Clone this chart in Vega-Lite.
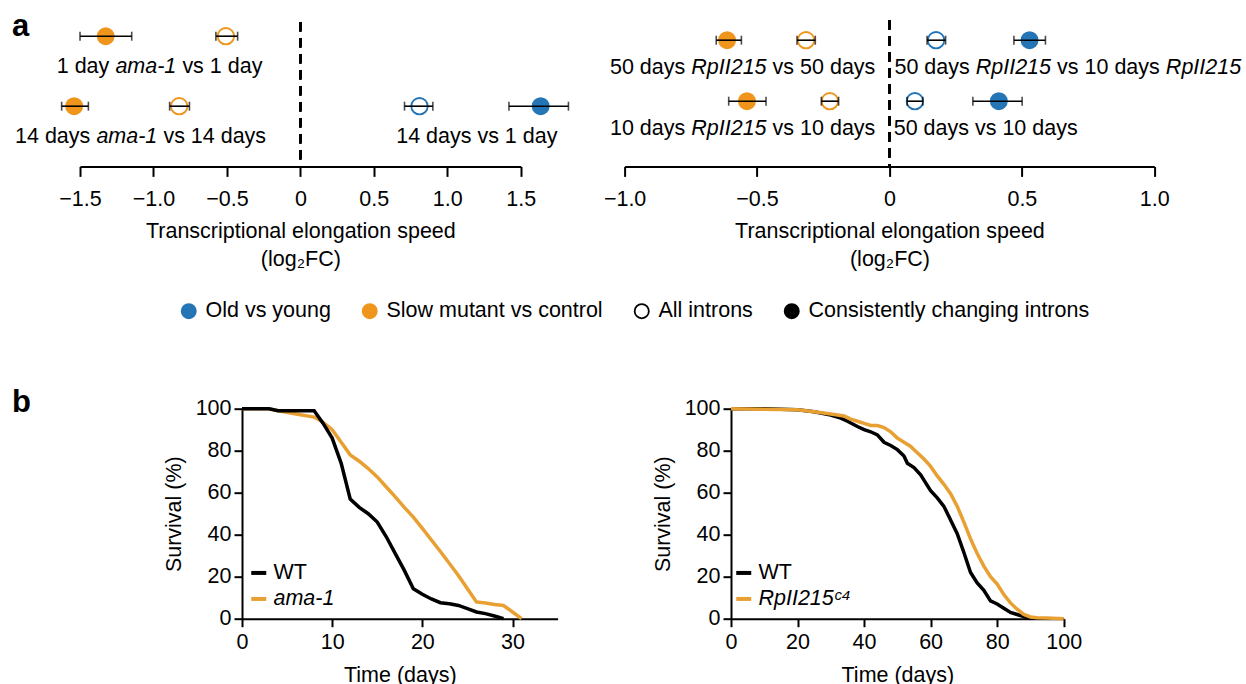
{
  "$schema": "https://vega.github.io/schema/vega-lite/v6.json",
  "padding": {"left": 12, "top": 4.7, "right": 5, "bottom": 0},
  "background": "white",
  "config": {
    "font": "Liberation Sans",
    "view": {"stroke": null},
    "axis": {"domainColor": "black", "domainWidth": 2, "tickColor": "black", "tickWidth": 2, "labelColor": "black", "labelFontSize": 21.5, "titleFontSize": 21.5, "titleFontWeight": "normal", "titleColor": "black", "grid": false, "labelFont": "Liberation Sans", "titleFont": "Liberation Sans", "labelFlush": false, "labelOverlap": false},
    "legend": {"labelFontSize": 21.5, "labelColor": "black", "labelFont": "Liberation Sans", "labelLimit": 0},
    "text": {"font": "Liberation Sans", "fontSize": 21.5, "color": "black"},
    "title": {"font": "Liberation Sans", "color": "black"}
  },
  "bounds": "flush",
  "spacing": 404,
  "resolve": {"scale": {"color": "independent", "fill": "independent", "stroke": "independent", "x": "independent", "y": "independent"}, "legend": {"color": "independent", "fill": "independent", "stroke": "independent"}},
  "vconcat": [
    {
      "title": {"text": "a", "anchor": "start", "frame": "group", "fontSize": 31, "fontWeight": "bold", "offset": 0, "dx": -68, "dy": 61.9, "baseline": "alphabetic"},
      "bounds": "flush",
      "spacing": 103.6,
      "resolve": {"scale": {"color": "independent", "fill": "independent", "stroke": "independent", "x": "independent", "y": "independent"}, "legend": {"color": "independent", "fill": "independent", "stroke": "independent"}},
      "hconcat": [
        {
          "width": 440.7,
          "height": 161.7,
          "data": {"values": [
            {"kind": "pt", "row": 2, "grp": "Slow mutant vs control", "typ": "consistent", "est": -1.325, "lo": -1.5, "hi": -1.148},
            {"kind": "pt", "row": 2, "grp": "Slow mutant vs control", "typ": "all", "est": -0.507, "lo": -0.575, "hi": -0.427},
            {"kind": "pt", "row": 1, "grp": "Slow mutant vs control", "typ": "consistent", "est": -1.54, "lo": -1.625, "hi": -1.443},
            {"kind": "pt", "row": 1, "grp": "Slow mutant vs control", "typ": "all", "est": -0.825, "lo": -0.89, "hi": -0.755},
            {"kind": "pt", "row": 1, "grp": "Old vs young", "typ": "all", "est": 0.811, "lo": 0.709, "hi": 0.902},
            {"kind": "pt", "row": 1, "grp": "Old vs young", "typ": "consistent", "est": 1.636, "lo": 1.42, "hi": 1.825},
            {"kind": "lab", "row": 2, "x": -1.6585, "text": "1 day", "ital": false},
            {"kind": "lab", "row": 2, "x": -1.2592, "text": "ama-1", "ital": true},
            {"kind": "lab", "row": 2, "x": -0.8031, "text": "vs 1 day", "ital": false},
            {"kind": "lab", "row": 1, "x": -1.9424, "text": "14 days", "ital": false},
            {"kind": "lab", "row": 1, "x": -1.3884, "text": "ama-1", "ital": true},
            {"kind": "lab", "row": 1, "x": -0.9323, "text": "vs 14 days", "ital": false},
            {"kind": "lab", "row": 1, "x": 0.6524, "text": "14 days vs 1 day", "ital": false}
          ]},
          "layer": [
            {
              "mark": {"type": "rule", "strokeDash": [9, 7], "strokeWidth": 2, "color": "black"},
              "encoding": {
                "x": {"datum": 0, "type": "quantitative", "scale": {"domain": [-1.5, 1.5], "nice": false, "zero": false}},
                "y": {"datum": 2.2, "type": "quantitative", "scale": {"domain": [0.14, 2.45], "nice": false, "zero": false}, "axis": null},
                "y2": {"datum": 0.14}
              }
            },
            {
              "transform": [{"filter": "datum.kind === 'pt' && datum.typ === 'consistent'"}],
              "mark": {"type": "point", "filled": true, "size": 320, "opacity": 1},
              "encoding": {
                "x": {"field": "est", "type": "quantitative", "scale": {"domain": [-1.5, 1.5], "nice": false, "zero": false},
                  "axis": {"values": [-1.5, -1, -0.5, 0, 0.5, 1, 1.5], "labelExpr": "datum.value === 0 ? '0' : format(datum.value, '.1f')", "title": ["Transcriptional elongation speed", "(log₂FC)"], "tickSize": 10, "labelPadding": 12, "titlePadding": 11, "titleLineHeight": 28}},
                "y": {"field": "row", "type": "quantitative", "scale": {"domain": [0.14, 2.45], "nice": false, "zero": false}, "axis": null},
                "color": {"field": "grp", "type": "nominal", "scale": {"domain": ["Old vs young", "Slow mutant vs control"], "range": ["#2475B5", "#EF951C"]}, "legend": null}
              }
            },
            {
              "transform": [{"filter": "datum.kind === 'pt' && datum.typ === 'all'"}],
              "mark": {"type": "point", "filled": false, "size": 270, "strokeWidth": 1.8, "opacity": 1},
              "encoding": {
                "x": {"field": "est", "type": "quantitative", "scale": {"domain": [-1.5, 1.5], "nice": false, "zero": false}},
                "y": {"field": "row", "type": "quantitative", "scale": {"domain": [0.14, 2.45], "nice": false, "zero": false}, "axis": null},
                "color": {"field": "grp", "type": "nominal", "scale": {"domain": ["Old vs young", "Slow mutant vs control"], "range": ["#2475B5", "#EF951C"]}, "legend": null}
              }
            },
            {
              "transform": [{"filter": "datum.kind === 'pt'"}],
              "mark": {"type": "rule", "strokeWidth": 1.6, "color": "black"},
              "encoding": {
                "x": {"field": "lo", "type": "quantitative", "scale": {"domain": [-1.5, 1.5], "nice": false, "zero": false}},
                "x2": {"field": "hi"},
                "y": {"field": "row", "type": "quantitative", "scale": {"domain": [0.14, 2.45], "nice": false, "zero": false}, "axis": null}
              }
            },
            {
              "transform": [{"filter": "datum.kind === 'pt'"}, {"fold": ["lo", "hi"], "as": ["end", "xv"]}],
              "mark": {"type": "tick", "orient": "vertical", "size": 9, "thickness": 1.6, "color": "black"},
              "encoding": {
                "x": {"field": "xv", "type": "quantitative", "scale": {"domain": [-1.5, 1.5], "nice": false, "zero": false}},
                "y": {"field": "row", "type": "quantitative", "scale": {"domain": [0.14, 2.45], "nice": false, "zero": false}, "axis": null}
              }
            },
            {
              "transform": [{"filter": "datum.kind === 'lab' && !datum.ital"}],
              "mark": {"type": "text", "align": "left", "baseline": "middle", "dy": 30.7, "fontSize": 21.5},
              "encoding": {
                "x": {"field": "x", "type": "quantitative", "scale": {"domain": [-1.5, 1.5], "nice": false, "zero": false}},
                "y": {"field": "row", "type": "quantitative", "scale": {"domain": [0.14, 2.45], "nice": false, "zero": false}, "axis": null},
                "text": {"field": "text"}
              }
            },
            {
              "transform": [{"filter": "datum.kind === 'lab' && datum.ital"}],
              "mark": {"type": "text", "align": "left", "baseline": "middle", "dy": 30.7, "fontSize": 21.5, "fontStyle": "italic"},
              "encoding": {
                "x": {"field": "x", "type": "quantitative", "scale": {"domain": [-1.5, 1.5], "nice": false, "zero": false}},
                "y": {"field": "row", "type": "quantitative", "scale": {"domain": [0.14, 2.45], "nice": false, "zero": false}, "axis": null},
                "text": {"field": "text"}
              }
            },
            {
              "data": {"values": [{"key": "Old vs young"}, {"key": "Slow mutant vs control"}, {"key": "All introns"}, {"key": "Consistently changing introns"}]},
              "mark": {"type": "point", "opacity": 0, "size": 200, "strokeWidth": 1.8},
              "encoding": {
                "x": {"datum": 0, "type": "quantitative", "scale": {"domain": [-1.5, 1.5], "nice": false, "zero": false}},
                "y": {"datum": 1, "type": "quantitative", "scale": {"domain": [0.14, 2.45], "nice": false, "zero": false}, "axis": null},
                "fill": {"field": "key", "type": "nominal", "scale": {"domain": ["Old vs young", "Slow mutant vs control", "All introns", "Consistently changing introns"], "range": ["#2475B5", "#EF951C", "white", "black"]},
                  "legend": {"title": null, "orient": "none", "direction": "horizontal", "legendX": 98, "legendY": 295.5, "symbolType": "circle", "symbolSize": 200, "symbolStrokeWidth": 1.8, "symbolOpacity": 1, "labelOffset": 6, "columnPadding": 28, "padding": 0}},
                "stroke": {"field": "key", "type": "nominal", "scale": {"domain": ["Old vs young", "Slow mutant vs control", "All introns", "Consistently changing introns"], "range": ["#2475B5", "#EF951C", "black", "black"]},
                  "legend": {"title": null, "orient": "none", "direction": "horizontal", "legendX": 98, "legendY": 295.5, "symbolType": "circle", "symbolSize": 200, "symbolStrokeWidth": 1.8, "symbolOpacity": 1, "labelOffset": 6, "columnPadding": 28, "padding": 0}}
              }
            }
          ]
        },
        {
          "width": 529.7,
          "height": 161.7,
          "data": {"values": [
            {"kind": "pt", "row": 2, "grp": "Slow mutant vs control", "typ": "consistent", "est": -0.613, "lo": -0.654, "hi": -0.559},
            {"kind": "pt", "row": 2, "grp": "Slow mutant vs control", "typ": "all", "est": -0.315, "lo": -0.349, "hi": -0.28},
            {"kind": "pt", "row": 2, "grp": "Old vs young", "typ": "all", "est": 0.176, "lo": 0.142, "hi": 0.212},
            {"kind": "pt", "row": 2, "grp": "Old vs young", "typ": "consistent", "est": 0.529, "lo": 0.47, "hi": 0.589},
            {"kind": "pt", "row": 1, "grp": "Slow mutant vs control", "typ": "consistent", "est": -0.538, "lo": -0.607, "hi": -0.466},
            {"kind": "pt", "row": 1, "grp": "Slow mutant vs control", "typ": "all", "est": -0.225, "lo": -0.257, "hi": -0.192},
            {"kind": "pt", "row": 1, "grp": "Old vs young", "typ": "all", "est": 0.096, "lo": 0.067, "hi": 0.126},
            {"kind": "pt", "row": 1, "grp": "Old vs young", "typ": "consistent", "est": 0.413, "lo": 0.315, "hi": 0.501},
            {"kind": "lab", "row": 2, "x": -1.0552, "text": "50 days", "ital": false},
            {"kind": "lab", "row": 2, "x": -0.7481, "text": "RpII215", "ital": true},
            {"kind": "lab", "row": 2, "x": -0.4411, "text": "vs 50 days", "ital": false},
            {"kind": "lab", "row": 2, "x": 0.0189, "text": "50 days", "ital": false},
            {"kind": "lab", "row": 2, "x": 0.3259, "text": "RpII215", "ital": true},
            {"kind": "lab", "row": 2, "x": 0.6329, "text": "vs 10 days", "ital": false},
            {"kind": "lab", "row": 2, "x": 1.0437, "text": "RpII215", "ital": true},
            {"kind": "lab", "row": 1, "x": -1.0552, "text": "10 days", "ital": false},
            {"kind": "lab", "row": 1, "x": -0.7481, "text": "RpII215", "ital": true},
            {"kind": "lab", "row": 1, "x": -0.4411, "text": "vs 10 days", "ital": false},
            {"kind": "lab", "row": 1, "x": 0.0162, "text": "50 days vs 10 days", "ital": false}
          ]},
          "layer": [
            {
              "mark": {"type": "rule", "strokeDash": [9, 7], "strokeWidth": 2, "color": "black"},
              "encoding": {
                "x": {"datum": 0, "type": "quantitative", "scale": {"domain": [-1, 1], "nice": false, "zero": false}},
                "y": {"datum": 2.328, "type": "quantitative", "scale": {"domain": [-0.069, 2.582], "nice": false, "zero": false}, "axis": null},
                "y2": {"datum": -0.069}
              }
            },
            {
              "transform": [{"filter": "datum.kind === 'pt' && datum.typ === 'consistent'"}],
              "mark": {"type": "point", "filled": true, "size": 320, "opacity": 1},
              "encoding": {
                "x": {"field": "est", "type": "quantitative", "scale": {"domain": [-1, 1], "nice": false, "zero": false},
                  "axis": {"values": [-1, -0.5, 0, 0.5, 1], "labelExpr": "datum.value === 0 ? '0' : format(datum.value, '.1f')", "title": ["Transcriptional elongation speed", "(log₂FC)"], "tickSize": 10, "labelPadding": 12, "titlePadding": 11, "titleLineHeight": 28}},
                "y": {"field": "row", "type": "quantitative", "scale": {"domain": [-0.069, 2.582], "nice": false, "zero": false}, "axis": null},
                "color": {"field": "grp", "type": "nominal", "scale": {"domain": ["Old vs young", "Slow mutant vs control"], "range": ["#2475B5", "#EF951C"]}, "legend": null}
              }
            },
            {
              "transform": [{"filter": "datum.kind === 'pt' && datum.typ === 'all'"}],
              "mark": {"type": "point", "filled": false, "size": 270, "strokeWidth": 1.8, "opacity": 1},
              "encoding": {
                "x": {"field": "est", "type": "quantitative", "scale": {"domain": [-1, 1], "nice": false, "zero": false}},
                "y": {"field": "row", "type": "quantitative", "scale": {"domain": [-0.069, 2.582], "nice": false, "zero": false}, "axis": null},
                "color": {"field": "grp", "type": "nominal", "scale": {"domain": ["Old vs young", "Slow mutant vs control"], "range": ["#2475B5", "#EF951C"]}, "legend": null}
              }
            },
            {
              "transform": [{"filter": "datum.kind === 'pt'"}],
              "mark": {"type": "rule", "strokeWidth": 1.6, "color": "black"},
              "encoding": {
                "x": {"field": "lo", "type": "quantitative", "scale": {"domain": [-1, 1], "nice": false, "zero": false}},
                "x2": {"field": "hi"},
                "y": {"field": "row", "type": "quantitative", "scale": {"domain": [-0.069, 2.582], "nice": false, "zero": false}, "axis": null}
              }
            },
            {
              "transform": [{"filter": "datum.kind === 'pt'"}, {"fold": ["lo", "hi"], "as": ["end", "xv"]}],
              "mark": {"type": "tick", "orient": "vertical", "size": 9, "thickness": 1.6, "color": "black"},
              "encoding": {
                "x": {"field": "xv", "type": "quantitative", "scale": {"domain": [-1, 1], "nice": false, "zero": false}},
                "y": {"field": "row", "type": "quantitative", "scale": {"domain": [-0.069, 2.582], "nice": false, "zero": false}, "axis": null}
              }
            },
            {
              "transform": [{"filter": "datum.kind === 'lab' && !datum.ital"}],
              "mark": {"type": "text", "align": "left", "baseline": "middle", "dy": 28.3, "fontSize": 21.5},
              "encoding": {
                "x": {"field": "x", "type": "quantitative", "scale": {"domain": [-1, 1], "nice": false, "zero": false}},
                "y": {"field": "row", "type": "quantitative", "scale": {"domain": [-0.069, 2.582], "nice": false, "zero": false}, "axis": null},
                "text": {"field": "text"}
              }
            },
            {
              "transform": [{"filter": "datum.kind === 'lab' && datum.ital"}],
              "mark": {"type": "text", "align": "left", "baseline": "middle", "dy": 28.3, "fontSize": 21.5, "fontStyle": "italic"},
              "encoding": {
                "x": {"field": "x", "type": "quantitative", "scale": {"domain": [-1, 1], "nice": false, "zero": false}},
                "y": {"field": "row", "type": "quantitative", "scale": {"domain": [-0.069, 2.582], "nice": false, "zero": false}, "axis": null},
                "text": {"field": "text"}
              }
            }
          ]
        }
      ]
    },
    {
      "title": {"text": "b", "anchor": "start", "frame": "group", "fontSize": 31, "fontWeight": "bold", "offset": 0, "dx": -68, "dy": 45, "baseline": "alphabetic"},
      "bounds": "flush",
      "spacing": 0,
      "resolve": {"scale": {"color": "independent", "x": "independent", "y": "independent"}, "legend": {"color": "independent"}},
      "hconcat": [
        {"width": 161.7, "height": 210, "data": {"values": []}, "mark": "point"},
        {
          "width": 315.6,
          "height": 210,
          "data": {"values": [
            {"strain": "ama-1", "day": 0, "survival": 100}, {"strain": "ama-1", "day": 3, "survival": 100}, {"strain": "ama-1", "day": 4, "survival": 99}, {"strain": "ama-1", "day": 6, "survival": 97.5},
            {"strain": "ama-1", "day": 8, "survival": 96}, {"strain": "ama-1", "day": 9, "survival": 93.5}, {"strain": "ama-1", "day": 10, "survival": 90}, {"strain": "ama-1", "day": 11, "survival": 84},
            {"strain": "ama-1", "day": 12, "survival": 78}, {"strain": "ama-1", "day": 13, "survival": 75}, {"strain": "ama-1", "day": 14, "survival": 71.5}, {"strain": "ama-1", "day": 15, "survival": 67.5},
            {"strain": "ama-1", "day": 16, "survival": 62.7}, {"strain": "ama-1", "day": 17, "survival": 58}, {"strain": "ama-1", "day": 18, "survival": 53}, {"strain": "ama-1", "day": 19, "survival": 48.4},
            {"strain": "ama-1", "day": 20, "survival": 43}, {"strain": "ama-1", "day": 22, "survival": 32}, {"strain": "ama-1", "day": 24, "survival": 20.6}, {"strain": "ama-1", "day": 25, "survival": 14.3},
            {"strain": "ama-1", "day": 26, "survival": 8}, {"strain": "ama-1", "day": 27, "survival": 7.5}, {"strain": "ama-1", "day": 28, "survival": 6.8}, {"strain": "ama-1", "day": 29, "survival": 6.3},
            {"strain": "ama-1", "day": 30, "survival": 3.2}, {"strain": "ama-1", "day": 31, "survival": 0},
            {"strain": "WT", "day": 0, "survival": 100}, {"strain": "WT", "day": 3, "survival": 100}, {"strain": "WT", "day": 4, "survival": 99}, {"strain": "WT", "day": 8, "survival": 99},
            {"strain": "WT", "day": 9, "survival": 93}, {"strain": "WT", "day": 10, "survival": 86}, {"strain": "WT", "day": 11, "survival": 74}, {"strain": "WT", "day": 12, "survival": 57},
            {"strain": "WT", "day": 13, "survival": 53}, {"strain": "WT", "day": 14, "survival": 50}, {"strain": "WT", "day": 15, "survival": 46}, {"strain": "WT", "day": 16, "survival": 39},
            {"strain": "WT", "day": 17, "survival": 31}, {"strain": "WT", "day": 18, "survival": 23}, {"strain": "WT", "day": 19, "survival": 14.3}, {"strain": "WT", "day": 20, "survival": 11.6},
            {"strain": "WT", "day": 21, "survival": 9.4}, {"strain": "WT", "day": 22, "survival": 7.6}, {"strain": "WT", "day": 23, "survival": 7.1}, {"strain": "WT", "day": 24, "survival": 6.3},
            {"strain": "WT", "day": 25, "survival": 4.8}, {"strain": "WT", "day": 26, "survival": 3.2}, {"strain": "WT", "day": 27, "survival": 2.4}, {"strain": "WT", "day": 28, "survival": 1.3},
            {"strain": "WT", "day": 29, "survival": 0}
          ]},
          "mark": {"type": "line", "strokeWidth": 3.5},
          "encoding": {
            "x": {"field": "day", "type": "quantitative", "scale": {"domain": [0, 35], "nice": false, "zero": false}, "axis": {"values": [0, 10, 20, 30], "title": "Time (days)", "tickSize": 8, "labelPadding": 5, "titlePadding": 11}},
            "y": {"field": "survival", "type": "quantitative", "scale": {"domain": [0, 100], "nice": false}, "axis": {"values": [0, 20, 40, 60, 80, 100], "title": "Survival (%)", "tickSize": 8, "labelPadding": 3, "titlePadding": 10}},
            "color": {"field": "strain", "type": "nominal", "scale": {"domain": ["WT", "ama-1"], "range": ["black", "#E8A032"]},
              "legend": {"title": null, "orient": "none", "legendX": 6, "legendY": 153.5, "symbolType": "stroke", "symbolSize": 225, "symbolStrokeWidth": 4, "labelOffset": 4, "rowPadding": 3, "padding": 0,
                "encoding": {"labels": {"fontStyle": {"condition": {"test": "datum.value === 'WT'", "value": "normal"}, "value": "italic"}}}}}
          }
        },
        {"width": 172.7, "height": 210, "data": {"values": []}, "mark": "point"},
        {
          "width": 332.7,
          "height": 210,
          "data": {"values": [
            {"strain": "WT", "day": 0, "survival": 100}, {"strain": "WT", "day": 10, "survival": 100}, {"strain": "WT", "day": 20, "survival": 99.5}, {"strain": "WT", "day": 25, "survival": 98.5},
            {"strain": "WT", "day": 30, "survival": 97}, {"strain": "WT", "day": 33, "survival": 95.5}, {"strain": "WT", "day": 35, "survival": 94}, {"strain": "WT", "day": 38, "survival": 91.5},
            {"strain": "WT", "day": 40, "survival": 90}, {"strain": "WT", "day": 42, "survival": 89}, {"strain": "WT", "day": 44, "survival": 87.5}, {"strain": "WT", "day": 46, "survival": 84},
            {"strain": "WT", "day": 48, "survival": 82.5}, {"strain": "WT", "day": 50, "survival": 80.5}, {"strain": "WT", "day": 52, "survival": 77.5}, {"strain": "WT", "day": 53, "survival": 74},
            {"strain": "WT", "day": 55, "survival": 72}, {"strain": "WT", "day": 57, "survival": 68.5}, {"strain": "WT", "day": 58, "survival": 66}, {"strain": "WT", "day": 60, "survival": 61},
            {"strain": "WT", "day": 62, "survival": 57.5}, {"strain": "WT", "day": 64, "survival": 53.5}, {"strain": "WT", "day": 66, "survival": 47}, {"strain": "WT", "day": 68, "survival": 40.5},
            {"strain": "WT", "day": 70, "survival": 31.5}, {"strain": "WT", "day": 72, "survival": 22}, {"strain": "WT", "day": 74, "survival": 17}, {"strain": "WT", "day": 76, "survival": 13.5},
            {"strain": "WT", "day": 78, "survival": 8.5}, {"strain": "WT", "day": 80, "survival": 7}, {"strain": "WT", "day": 82, "survival": 5}, {"strain": "WT", "day": 84, "survival": 3},
            {"strain": "WT", "day": 86, "survival": 2}, {"strain": "WT", "day": 88, "survival": 1}, {"strain": "WT", "day": 90, "survival": 0},
            {"strain": "RpII215C4", "day": 0, "survival": 100}, {"strain": "RpII215C4", "day": 20, "survival": 99.5}, {"strain": "RpII215C4", "day": 25, "survival": 98.5}, {"strain": "RpII215C4", "day": 30, "survival": 97.5},
            {"strain": "RpII215C4", "day": 34, "survival": 96.5}, {"strain": "RpII215C4", "day": 36, "survival": 95}, {"strain": "RpII215C4", "day": 38, "survival": 94}, {"strain": "RpII215C4", "day": 40, "survival": 93},
            {"strain": "RpII215C4", "day": 42, "survival": 92}, {"strain": "RpII215C4", "day": 44, "survival": 92}, {"strain": "RpII215C4", "day": 46, "survival": 91}, {"strain": "RpII215C4", "day": 48, "survival": 89},
            {"strain": "RpII215C4", "day": 50, "survival": 86}, {"strain": "RpII215C4", "day": 52, "survival": 84}, {"strain": "RpII215C4", "day": 54, "survival": 82}, {"strain": "RpII215C4", "day": 56, "survival": 79},
            {"strain": "RpII215C4", "day": 58, "survival": 76}, {"strain": "RpII215C4", "day": 60, "survival": 72.5}, {"strain": "RpII215C4", "day": 62, "survival": 68}, {"strain": "RpII215C4", "day": 64, "survival": 64},
            {"strain": "RpII215C4", "day": 66, "survival": 59.5}, {"strain": "RpII215C4", "day": 68, "survival": 53.5}, {"strain": "RpII215C4", "day": 70, "survival": 46}, {"strain": "RpII215C4", "day": 72, "survival": 38},
            {"strain": "RpII215C4", "day": 74, "survival": 31}, {"strain": "RpII215C4", "day": 76, "survival": 25}, {"strain": "RpII215C4", "day": 78, "survival": 20}, {"strain": "RpII215C4", "day": 80, "survival": 16.5},
            {"strain": "RpII215C4", "day": 82, "survival": 11.5}, {"strain": "RpII215C4", "day": 84, "survival": 7.5}, {"strain": "RpII215C4", "day": 86, "survival": 4.5}, {"strain": "RpII215C4", "day": 88, "survival": 2},
            {"strain": "RpII215C4", "day": 90, "survival": 0.8}, {"strain": "RpII215C4", "day": 92, "survival": 0.5}, {"strain": "RpII215C4", "day": 95, "survival": 0.3}, {"strain": "RpII215C4", "day": 100, "survival": 0}
          ]},
          "mark": {"type": "line", "strokeWidth": 3.5},
          "encoding": {
            "x": {"field": "day", "type": "quantitative", "scale": {"domain": [0, 100], "nice": false, "zero": false}, "axis": {"values": [0, 20, 40, 60, 80, 100], "title": "Time (days)", "tickSize": 8, "labelPadding": 5, "titlePadding": 11}},
            "y": {"field": "survival", "type": "quantitative", "scale": {"domain": [0, 100], "nice": false}, "axis": {"values": [0, 20, 40, 60, 80, 100], "title": "Survival (%)", "tickSize": 8, "labelPadding": 3, "titlePadding": 10}},
            "color": {"field": "strain", "type": "nominal", "scale": {"domain": ["WT", "RpII215C4"], "range": ["black", "#E8A032"]},
              "legend": {"title": null, "orient": "none", "legendX": 2, "legendY": 153.5, "symbolType": "stroke", "symbolSize": 225, "symbolStrokeWidth": 4, "labelOffset": 4, "rowPadding": 3, "padding": 0,
                "labelExpr": "datum.value === 'RpII215C4' ? 'RpII215ᶜ⁴' : datum.label",
                "encoding": {"labels": {"fontStyle": {"condition": {"test": "datum.value === 'WT'", "value": "normal"}, "value": "italic"}}}}}
          }
        }
      ]
    }
  ]
}
